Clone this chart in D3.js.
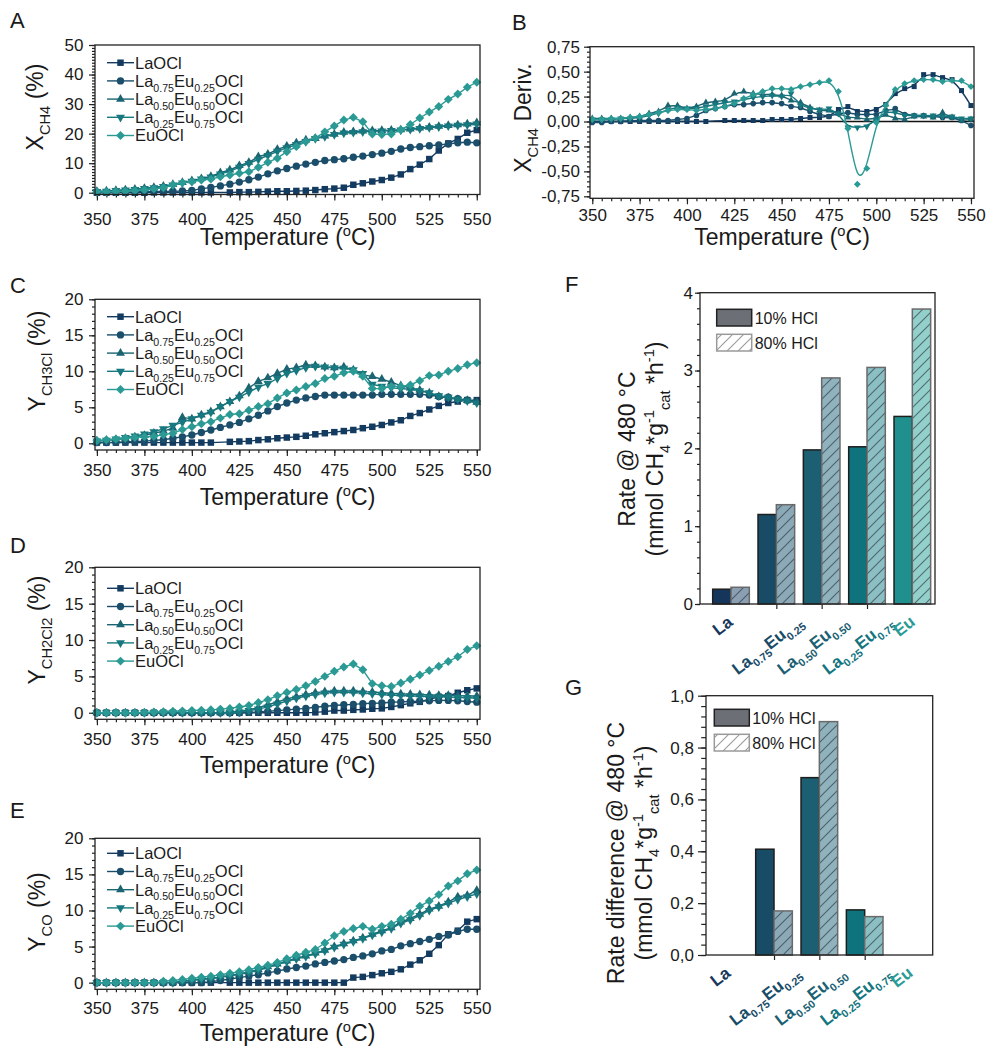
<!DOCTYPE html>
<html lang="en">
<head>
<meta charset="utf-8">
<title>CH4 oxychlorination over La/Eu oxychlorides</title>
<script src="https://cdn.jsdelivr.net/npm/d3@7"></script>
<style>
  body { margin: 0; background: #fff; }
  svg text { font-family: "Liberation Sans", Arial, sans-serif; fill: #1a1a1a; }
</style>
</head>
<body>
<div id="chart"></div>
<script>
// ---- data ----
var temps = [350,355,360,365,370,375,380,385,390,395,400,405,410,415,420,425,430,435,440,445,450,
             455,460,465,470,475,480,485,490,495,500,505,510,515,520,525,530,535,540,545,550];

// A: X_CH4 (%)
var xch4_La   = [0,0,0,0,0,0,0.1,0.1,0.1,0.1,0.1,0.1,0.1,null,0.1,0.2,0.2,0.3,0.4,0.5,0.5,0.6,0.7,0.9,1.2,1.4,1.7,2.7,3.2,3.8,4.3,5.1,6.2,8.0,9.5,11.4,14.3,16.7,18.2,20.3,21.2];
var xch4_La75 = [0.2,0.2,0.3,0.3,0.3,0.4,0.4,0.4,0.5,0.6,0.8,1.3,1.8,2.3,2.9,3.6,4.4,5.3,6.4,7.4,8.2,9.0,9.7,10.3,10.9,11.2,11.5,12.0,12.4,12.9,13.4,14.0,14.8,15.3,15.6,15.9,16.2,16.5,16.9,17.1,16.9];
var xch4_La50 = [0.5,0.6,0.8,1.0,1.2,1.5,1.8,2.2,2.8,3.5,4.1,4.8,5.5,6.8,7.7,9.2,10.3,12.2,13.1,14.7,15.8,16.9,17.9,18.4,19.2,19.8,20.5,20.7,20.9,21.0,21.1,21.2,21.3,21.6,21.9,22.2,22.5,22.8,23.0,23.3,23.7];
var xch4_La25 = [0.4,0.5,0.7,0.9,1.1,1.4,1.7,2.1,2.6,3.3,3.9,4.6,5.3,6.3,7.3,8.6,9.9,11.3,12.6,14.0,15.2,16.3,17.3,18.3,19.0,19.7,20.2,20.4,20.6,20.8,20.9,21.0,21.2,21.4,21.7,22.0,22.3,22.6,22.8,23.0,23.2];
var xch4_Eu   = [0.3,0.3,0.4,0.5,0.7,0.9,1.3,1.7,2.6,3.4,3.7,4.3,4.6,5.4,6.0,6.6,7.1,8.6,10.3,11.7,13.9,15.6,17.3,18.5,20.6,22.6,24.6,25.5,24.0,19.9,19.7,19.9,21.3,23.1,25.3,27.3,29.2,31.6,33.4,35.7,37.4];

// B: derivative of X_CH4
var dx_La   = [0,0,0,0,0,0,0,0,0,0,0,0,0,null,0.01,0.01,0.01,0.01,0.01,0.02,0.02,0.02,0.03,0.04,0.04,0.05,0.12,0.15,0.10,0.10,0.12,0.17,0.28,0.33,0.35,0.47,0.47,0.44,0.42,0.31,0.16];
var dx_La75 = [-0.01,-0.01,0,0,0.01,0.01,0.01,0.01,0.01,0.02,0.03,0.06,0.11,0.13,0.15,0.17,0.17,0.18,0.19,0.19,0.18,0.15,0.14,0.10,0.07,0.05,0.08,0.09,0.07,0.07,0.07,0.11,0.13,0.07,0.06,0.06,0.05,0.04,0.04,0.01,-0.04];
var dx_La50 = [0.03,0.03,0.03,0.03,0.04,0.05,0.08,0.10,0.16,0.16,0.13,0.15,0.19,0.20,0.21,0.28,0.30,0.28,0.27,0.27,0.26,0.21,0.19,0.14,0.11,0.11,0.08,0.04,0.04,0.02,0.03,0.07,0.03,0.02,0.05,0.05,0.04,0.09,0.04,0.01,0.02];
var dx_La25 = [0.02,0.02,0.02,0.03,0.03,0.04,0.06,0.08,0.12,0.14,0.13,0.13,0.15,0.17,0.19,0.20,0.22,0.24,0.25,0.26,0.25,0.28,0.16,0.13,0.12,0.13,0.08,-0.06,-0.06,-0.05,0.02,0.10,0.09,0.06,0.06,0.06,0.06,0.05,0.05,0.03,0.03];
var dx_Eu   = [0.02,0.02,0.03,0.03,0.04,0.05,0.07,0.09,0.11,0.12,0.12,0.11,0.12,0.13,0.15,0.18,0.23,0.27,0.30,0.33,0.33,0.32,0.35,0.37,0.39,0.41,0.30,-0.07,-0.63,-0.47,-0.01,0.16,0.32,0.38,0.41,0.42,0.42,0.40,0.41,0.41,0.35];

// C: Y_CH3Cl (%)
var ych3cl_La   = [0.1,0.1,0.1,0.1,0.1,0.1,0.1,0.1,0.1,0.1,0.1,0.1,0.1,null,0.2,0.25,0.3,0.45,0.55,0.7,0.8,0.9,1.05,1.25,1.4,1.55,1.7,1.85,2.1,2.3,2.55,2.9,3.2,3.8,4.2,4.7,5.2,5.6,5.8,6.0,6.0];
var ych3cl_La75 = [0.1,0.1,0.15,0.2,0.25,0.3,0.4,0.5,0.7,0.9,1.15,1.5,1.85,2.2,2.55,2.9,3.4,3.9,4.5,5.1,5.6,6.0,6.3,6.5,6.7,6.7,6.7,6.7,6.7,6.7,6.8,6.8,6.8,6.8,6.8,6.7,6.5,6.4,6.2,6.0,5.8];
var ych3cl_La50 = [0.3,0.4,0.5,0.7,0.9,1.1,1.4,1.7,2.1,3.6,3.4,3.95,4.4,5.1,5.8,6.6,7.7,8.6,9.1,9.7,10.3,10.5,10.9,10.8,10.6,10.5,10.6,10.2,9.5,9.3,8.9,8.5,8.0,7.7,7.4,7.0,6.5,6.3,6.1,5.95,5.7];
var ych3cl_La25 = [0.3,0.4,0.6,0.8,1.0,1.3,1.6,2.0,2.5,2.9,3.4,3.9,4.3,5.1,5.8,6.4,7.1,7.8,8.3,9.0,9.7,10.1,10.5,10.7,10.6,10.5,10.4,10.2,9.7,8.2,7.9,7.7,7.6,7.5,7.3,7.0,6.6,6.4,6.1,5.9,5.6];
var ych3cl_Eu   = [0.4,0.5,0.6,0.7,0.8,0.9,0.95,1.2,1.4,1.9,2.3,2.7,3.0,3.5,4.0,4.1,4.6,5.1,5.5,6.3,7.0,7.4,7.9,8.3,9.0,9.3,9.8,10.0,9.3,7.6,7.6,7.9,7.9,8.1,8.7,9.4,9.5,10.0,10.4,10.9,11.2];

// D: Y_CH2Cl2 (%)
var ych2cl2_La   = [0,0,0,0,0,0,0,0,0,0,0,0,0,null,0,0,0,0,0,0,0,0,0,0.05,0.15,0.3,0.3,0.4,0.45,0.55,0.6,0.8,1.05,1.3,1.5,1.85,2.2,2.3,2.75,3.1,3.35];
var ych2cl2_La75 = [0,0,0,0,0,0,0,0,0,0,0,0,0,0,0,0,0.05,0.1,0.2,0.3,0.4,0.5,0.6,0.75,0.9,1.0,1.1,1.15,1.25,1.3,1.35,1.45,1.5,1.55,1.6,1.65,1.7,1.7,1.65,1.55,1.45];
var ych2cl2_La50 = [0,0,0,0,0,0,0,0,0,0,0,0,0,0,0.1,0.2,0.4,0.7,1.1,1.5,1.9,2.2,2.5,2.75,2.9,3.0,3.0,3.0,2.9,2.85,2.75,2.65,2.6,2.55,2.5,2.45,2.4,2.4,2.35,2.3,2.3];
var ych2cl2_La25 = [0,0,0,0,0,0,0,0,0,0,0,0,0,0,0,0.1,0.3,0.5,0.8,1.2,1.6,2.0,2.3,2.5,2.7,2.8,2.8,2.8,2.7,2.6,2.5,2.4,2.4,2.3,2.3,2.2,2.2,2.2,2.1,2.1,2.0];
var ych2cl2_Eu   = [0,0,0,0,0,0.05,0.1,0.15,0.2,0.25,0.3,0.35,0.4,0.5,0.6,0.8,1.0,1.4,1.8,2.35,2.8,3.2,3.7,4.3,5.0,5.7,6.3,6.7,5.9,4.0,3.7,3.6,4.1,4.6,5.2,5.8,6.4,7.05,7.7,8.7,9.2];

// E: Y_CO (%)
var yco_La   = [0,0,0,0,0,0,0,0,0,0,0,0,0,null,0,0,0,0,0,0,0,0,0,0,0,0,0,0.7,0.8,1.05,1.3,1.5,1.85,2.5,3.1,4.0,5.2,6.7,7.2,8.45,8.8];
var yco_La75 = [0,0,0,0,0,0,0,0,0,0,0,0,0.15,0.3,0.5,0.7,0.9,1.1,1.35,1.6,1.9,2.1,2.3,2.6,2.8,3.0,3.2,3.5,3.7,4.0,4.4,4.6,5.1,5.4,5.7,6.0,6.4,6.6,7.1,7.4,7.4];
var yco_La50 = [0,0,0,0,0,0,0,0,0,0.2,0.35,0.5,0.6,0.8,1.0,1.2,1.5,1.8,2.2,2.6,3.0,3.4,3.7,4.1,4.5,5.0,5.4,5.8,6.2,6.7,7.2,7.6,8.4,8.9,9.5,10.2,10.6,11.2,11.9,12.1,12.8];
var yco_La25 = [0,0,0,0,0,0,0,0,0,0.15,0.3,0.45,0.55,0.75,0.95,1.15,1.4,1.7,2.1,2.5,2.9,3.3,3.6,4.0,4.4,4.9,5.3,5.7,6.1,6.6,7.0,7.5,8.2,8.7,9.3,10.0,10.5,11.0,11.5,11.9,12.3];
var yco_Eu   = [0,0,0,0,0,0,0,0.2,0.3,0.45,0.6,0.75,0.9,1.1,1.3,1.5,1.8,2.1,2.4,2.8,3.3,3.8,4.2,4.6,5.5,6.5,7.1,7.5,7.8,7.4,7.8,8.1,8.8,9.6,10.6,11.3,12.2,13.4,14.1,15.1,15.6];

// F / G: rates at 480 °C
var rate10 = [0.19, 1.15, 1.98, 2.02, 2.41];
var rate80 = [0.215, 1.276, 2.905, 3.04, 3.79];
var diff10 = [0, 0.408, 0.684, 0.174, 0];
var diff80 = [0, 0.17, 0.90, 0.148, 0];

var seriesNames = [
  [['LaOCl']],
  [['La'], ['0.75', 'sub'], ['Eu'], ['0.25', 'sub'], ['OCl']],
  [['La'], ['0.50', 'sub'], ['Eu'], ['0.50', 'sub'], ['OCl']],
  [['La'], ['0.25', 'sub'], ['Eu'], ['0.75', 'sub'], ['OCl']],
  [['EuOCl']]
];
var barCategories = [
  [['La']],
  [['La'], ['0.75', 'sub'], ['Eu'], ['0.25', 'sub']],
  [['La'], ['0.50', 'sub'], ['Eu'], ['0.50', 'sub']],
  [['La'], ['0.25', 'sub'], ['Eu'], ['0.75', 'sub']],
  [['Eu']]
];
var legendBars = ['10% HCl', '80% HCl'];

// ---- styles ----
var seriesColors = ['#133a5f', '#1a4e6b', '#1b6471', '#17787f', '#2b9a95'];
var bar10Colors  = ['#15365a', '#174b66', '#1c5f72', '#0f737d', '#1f908d'];
var bar80Colors  = ['#8a9fb2', '#8ca9b7', '#8fb2bd', '#8cbfc3', '#93cfcb'];
var catColors    = ['#17385c', '#174b68', '#1b5f73', '#13757f', '#2a9a96'];
var symTypes = [d3.symbolSquare, d3.symbolCircle, d3.symbolTriangle, d3.symbolTriangle, d3.symbolSquare];
var symSizes = [42, 42, 34, 34, 40];
var symRot   = [0, 0, 0, 180, 45];

var svg = d3.select('#chart').append('svg').attr('width', 989).attr('height', 1046);
var defs = svg.append('defs');

function hatch(id, color) {
  defs.append('pattern').attr('id', id).attr('patternUnits', 'userSpaceOnUse')
      .attr('width', 11).attr('height', 11)
    .append('path').attr('d', 'M-3,3 l6,-6 M0,11 l11,-11 M8,14 l6,-6')
      .attr('stroke', color).attr('stroke-width', 1.1);
}
hatch('hatchDark', 'rgba(30,45,55,0.6)');
hatch('hatchGrey', '#9a9a9a');

// text with sub/superscripts
function rich(sel, parts, size) {
  var shift = 0;
  parts.forEach(function (p) {
    var kind = p[1] || 'n';
    var target = kind === 'sub' ? size * 0.3 : kind === 'sup' ? -size * 0.4 : 0;
    var t = sel.append('tspan').text(p[0]).attr('dy', (target - shift).toFixed(2));
    if (kind !== 'n') t.attr('font-size', (size * 0.64).toFixed(1));
    shift = target;
  });
  return sel;
}

function styleAxis(g, fs) {
  g.attr('font-size', fs).attr('font-family', null);
  g.select('.domain').remove();
  g.selectAll('.tick line').attr('stroke', '#222').attr('stroke-width', 1.2);
  g.selectAll('.tick text').attr('fill', '#1a1a1a');
}

function letter(txt, x, y) {
  svg.append('text').attr('x', x).attr('y', y).attr('font-size', 22).text(txt);
}

function frame(box) {
  svg.append('rect').attr('x', box[0]).attr('y', box[1])
    .attr('width', box[2] - box[0]).attr('height', box[3] - box[1])
    .attr('fill', 'none').attr('stroke', '#222').attr('stroke-width', 1.3);
}

// ---- line panels ----
function linePanel(p) {
  var b = p.box;
  var x = d3.scaleLinear().domain(p.xDomain).range([b[0], b[2]]);
  var y = d3.scaleLinear().domain(p.yDomain).range([b[3], b[1]]);
  var g = svg.append('g');

  g.append('g').attr('transform', 'translate(0,' + b[3] + ')')
    .call(d3.axisBottom(x).tickValues(d3.range(350, 551, 5)).tickSize(3).tickFormat(''))
    .call(styleAxis, 17);
  g.append('g').attr('transform', 'translate(0,' + b[3] + ')')
    .call(d3.axisBottom(x).tickValues(d3.range(350, 551, 25)).tickSize(6).tickPadding(p.xPad).tickFormat(d3.format('d')))
    .call(styleAxis, 17);
  g.append('g').attr('transform', 'translate(' + b[0] + ',0)')
    .call(d3.axisLeft(y).tickValues(p.yMinor).tickSize(3).tickFormat(''))
    .call(styleAxis, 17);
  g.append('g').attr('transform', 'translate(' + b[0] + ',0)')
    .call(d3.axisLeft(y).tickValues(p.yMajor).tickSize(6).tickPadding(p.yPad).tickFormat(p.yFmt))
    .call(styleAxis, 17);

  if (p.zeroLine) {
    g.append('line').attr('x1', b[0]).attr('x2', b[2]).attr('y1', y(0)).attr('y2', y(0))
      .attr('stroke', '#111').attr('stroke-width', 1.4);
  }

  var line = d3.line().x(function (d) { return x(d.t); }).y(function (d) { return y(d.v); }).curve(p.curve);
  p.series.forEach(function (arr, i) {
    var pts = temps.map(function (t, k) { return { t: t, v: arr[k] }; })
                   .filter(function (d) { return d.v != null; });
    g.append('path').datum(pts).attr('d', line).attr('fill', 'none')
      .attr('stroke', seriesColors[i]).attr('stroke-width', 1.4);
    g.selectAll(null).data(pts).enter().append('path')
      .attr('d', d3.symbol().type(symTypes[i]).size(symSizes[i] * p.symScale)())
      .attr('transform', function (d) { return 'translate(' + x(d.t) + ',' + y(d.v) + ') rotate(' + symRot[i] + ')'; })
      .attr('fill', seriesColors[i]);
  });

  frame(b);

  if (p.legendTop != null) {
    seriesNames.forEach(function (name, i) {
      var ly = b[1] + p.legendTop + i * 18.2;
      g.append('line').attr('x1', b[0] + 12).attr('x2', b[0] + 39).attr('y1', ly).attr('y2', ly)
        .attr('stroke', seriesColors[i]).attr('stroke-width', 1.4);
      g.append('path').attr('d', d3.symbol().type(symTypes[i]).size(symSizes[i])())
        .attr('transform', 'translate(' + (b[0] + 25.5) + ',' + ly + ') rotate(' + symRot[i] + ')')
        .attr('fill', seriesColors[i]);
      rich(g.append('text').attr('x', b[0] + 40).attr('y', ly + 5.8).attr('font-size', 16.5), name, 16.5);
    });
  }

  rich(svg.append('text').attr('x', (b[0] + b[2]) / 2).attr('y', p.xTitleY)
    .attr('text-anchor', 'middle').attr('font-size', 23), [['Temperature ('], ['o', 'sup'], ['C)']], 23);
  rich(svg.append('text').attr('transform', 'translate(' + p.yTitle[0] + ',' + p.yTitle[1] + ') rotate(-90)')
    .attr('text-anchor', 'middle').attr('font-size', 23), p.yTitleParts, 23);
  letter(p.letter, p.letterPos[0], p.letterPos[1]);
}

var commaFmt = function (dec) {
  return function (d) { return (d < 0 ? '-' : '') + Math.abs(d).toFixed(dec).replace('.', ','); };
};

linePanel({ letter: 'A', letterPos: [10, 28], box: [95, 45, 480, 194.5], xDomain: [349, 551.7], yDomain: [-0.6, 50],
  yMajor: d3.range(0, 51, 10), yMinor: d3.range(0, 51, 1), yFmt: d3.format('d'), xPad: 12, yPad: 5.5,
  series: [xch4_La, xch4_La75, xch4_La50, xch4_La25, xch4_Eu], curve: d3.curveLinear, symScale: 1,
  legendTop: 17.7, xTitleY: 245, yTitle: [43, 107], yTitleParts: [['X'], ['CH4', 'sub'], [' (%)']] });

linePanel({ letter: 'B', letterPos: [512, 30], box: [590, 46.7, 974, 198.3], xDomain: [348.8, 551.6], yDomain: [-0.77, 0.75],
  yMajor: d3.range(-0.75, 0.76, 0.25), yMinor: d3.range(-0.75, 0.76, 0.05), yFmt: commaFmt(2), xPad: 5, yPad: 4,
  series: [dx_La, dx_La75, dx_La50, dx_La25, dx_Eu], curve: d3.curveBasis, symScale: 0.6, zeroLine: true,
  legendTop: null, xTitleY: 245, yTitle: [531, 118], yTitleParts: [['X'], ['CH4', 'sub'], [' Deriv.']] });

linePanel({ letter: 'C', letterPos: [10, 293], box: [95, 299.3, 480, 450], xDomain: [349, 551.7], yDomain: [-0.93, 20],
  yMajor: d3.range(0, 21, 5), yMinor: d3.range(0, 21, 1), yFmt: d3.format('d'), xPad: 8, yPad: 5.5,
  series: [ych3cl_La, ych3cl_La75, ych3cl_La50, ych3cl_La25, ych3cl_Eu], curve: d3.curveLinear, symScale: 1,
  legendTop: 17.4, xTitleY: 505, yTitle: [45, 361], yTitleParts: [['Y'], ['CH3Cl', 'sub'], [' (%)']] });

linePanel({ letter: 'D', letterPos: [10, 553], box: [95, 567.3, 480, 719.3], xDomain: [349, 551.7], yDomain: [-0.9, 20],
  yMajor: d3.range(0, 21, 5), yMinor: d3.range(0, 21, 1), yFmt: d3.format('d'), xPad: 8, yPad: 5.5,
  series: [ych2cl2_La, ych2cl2_La75, ych2cl2_La50, ych2cl2_La25, ych2cl2_Eu], curve: d3.curveLinear, symScale: 1,
  legendTop: 21, xTitleY: 773, yTitle: [45, 630], yTitleParts: [['Y'], ['CH2Cl2', 'sub'], [' (%)']] });

linePanel({ letter: 'E', letterPos: [10, 818], box: [95, 838.3, 480, 989.3], xDomain: [349, 551.7], yDomain: [-0.92, 20],
  yMajor: d3.range(0, 21, 5), yMinor: d3.range(0, 21, 1), yFmt: d3.format('d'), xPad: 7, yPad: 5.5,
  series: [yco_La, yco_La75, yco_La50, yco_La25, yco_Eu], curve: d3.curveLinear, symScale: 1,
  legendTop: 15, xTitleY: 1041, yTitle: [45, 912], yTitleParts: [['Y'], ['CO', 'sub'], [' (%)']] });

// ---- bar panels ----
function barPanel(p) {
  var b = p.box;
  var x = d3.scaleLinear().domain(p.xDomain).range([b[0], b[2]]);
  var y = d3.scaleLinear().domain(p.yDomain).range([b[3], b[1]]);
  var bw = 0.404;
  var g = svg.append('g');

  g.append('g').attr('transform', 'translate(' + b[0] + ',0)')
    .call(d3.axisLeft(y).tickValues(p.yMinor).tickSize(p.tick * 0.6).tickFormat(''))
    .call(styleAxis, 17);
  g.append('g').attr('transform', 'translate(' + b[0] + ',0)')
    .call(d3.axisLeft(y).tickValues(p.yMajor).tickSize(p.tick).tickPadding(p.yPad).tickFormat(p.yFmt))
    .call(styleAxis, 17);
  g.append('g').attr('transform', 'translate(0,' + b[3] + ')')
    .call(d3.axisBottom(x).tickValues([2, 3, 4]).tickSize(5).tickFormat(''))
    .call(styleAxis, 17);

  var data = p.v10.map(function (v, i) { return { i: i, v10: v, v80: p.v80[i] }; });
  data.filter(function (d) { return d.v10 > 0; }).forEach(function (d) {
    g.append('rect').attr('x', x(d.i + 1 - bw)).attr('y', y(d.v10))
      .attr('width', x(bw) - x(0)).attr('height', y(0) - y(d.v10))
      .attr('fill', bar10Colors[d.i]).attr('stroke', '#1e1e1e').attr('stroke-width', 1.5);
  });
  data.filter(function (d) { return d.v80 > 0; }).forEach(function (d) {
    var r = [x(d.i + 1), y(d.v80), x(bw) - x(0), y(0) - y(d.v80)];
    g.append('rect').attr('x', r[0]).attr('y', r[1]).attr('width', r[2]).attr('height', r[3])
      .attr('fill', bar80Colors[d.i]);
    g.append('rect').attr('x', r[0]).attr('y', r[1]).attr('width', r[2]).attr('height', r[3])
      .attr('fill', 'url(#hatchDark)').attr('stroke', '#6a6a6a').attr('stroke-width', 1.5);
  });

  frame(b);

  // legend
  var lx = b[0] + p.leg[0], ly = b[1] + p.leg[1];
  g.append('rect').attr('x', lx).attr('y', ly).attr('width', 35).attr('height', 16.7)
    .attr('fill', '#6c6f75').attr('stroke', '#222').attr('stroke-width', 1.5);
  g.append('rect').attr('x', lx).attr('y', ly + 25).attr('width', 35).attr('height', 16.7)
    .attr('fill', '#fff').attr('stroke', '#9a9a9a').attr('stroke-width', 1.5);
  g.append('rect').attr('x', lx).attr('y', ly + 25).attr('width', 35).attr('height', 16.7)
    .attr('fill', 'url(#hatchGrey)');
  legendBars.forEach(function (t, k) {
    g.append('text').attr('x', lx + 38).attr('y', ly + 14.3 + k * 25).attr('font-size', 16).text(t);
  });

  // slanted category labels: slanted box centred under the tick, top just below the axis
  var svgRect = svg.node().getBoundingClientRect();
  barCategories.forEach(function (parts, i) {
    var holder = g.append('g');
    var t = rich(holder.append('text').attr('transform', 'rotate(-38)')
      .attr('font-size', 17).attr('font-weight', 'bold')
      .style('fill', catColors[i]), parts, 17);
    var r = t.node().getBoundingClientRect();
    var cx = r.left - svgRect.left + r.width / 2, top = r.top - svgRect.top;
    holder.attr('transform', 'translate(' + (x(i + 1) - 8 - cx).toFixed(2) + ',' + (b[3] + 8 - top).toFixed(2) + ')');
  });

  // y title (two lines)
  rich(svg.append('text').attr('transform', 'translate(' + p.yTitle[0] + ',' + p.yTitle[2] + ') rotate(-90)')
    .attr('text-anchor', 'middle').attr('font-size', 23), p.title1, 23);
  rich(svg.append('text').attr('transform', 'translate(' + p.yTitle[1] + ',' + p.yTitle[2] + ') rotate(-90)')
    .attr('text-anchor', 'middle').attr('font-size', 23),
    [['(mmol CH'], ['4', 'sub'], ['*g'], ['-1', 'sup'], ['cat', 'sub'], [' *h'], ['-1', 'sup'], [')']], 23);
  letter(p.letter, p.letterPos[0], p.letterPos[1]);
}

barPanel({ letter: 'F', letterPos: [565, 292], box: [700, 292.7, 935, 604], xDomain: [0.316, 5.5], yDomain: [0, 4],
  yMajor: [0, 1, 2, 3, 4], yMinor: d3.range(0, 4.01, 0.2), yFmt: d3.format('d'), tick: 5, yPad: 2,
  v10: rate10, v80: rate80, leg: [16.7, 16.6], yTitle: [635, 663, 449], title1: [['Rate @ 480 °C']] });

barPanel({ letter: 'G', letterPos: [565, 695], box: [706, 695.7, 932.7, 955], xDomain: [0.5, 5.5], yDomain: [0, 1],
  yMajor: d3.range(0, 1.01, 0.2), yMinor: d3.range(0, 1.01, 0.04), yFmt: commaFmt(1), tick: 8, yPad: 4,
  v10: diff10, v80: diff80, leg: [8.3, 13.6], yTitle: [624, 652, 853], title1: [['Rate difference @ 480 °C']] });
</script>
</body>
</html>
